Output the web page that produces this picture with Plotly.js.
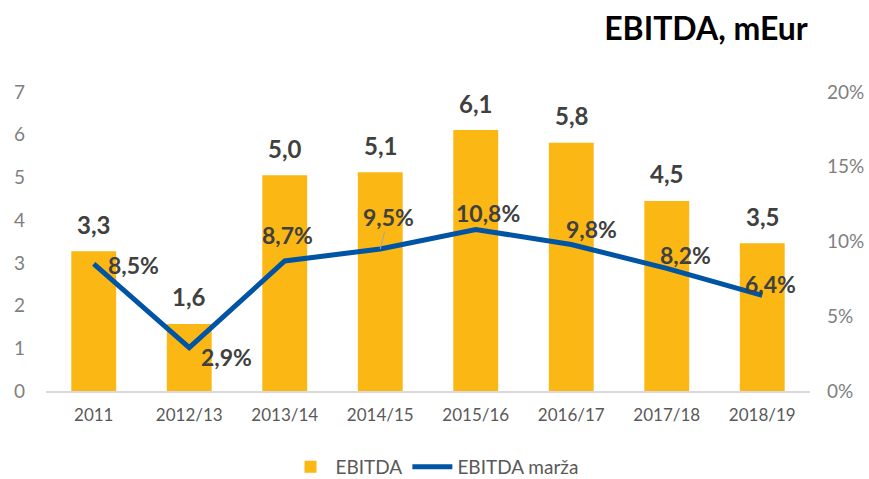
<!DOCTYPE html>
<html>
<head>
<meta charset="utf-8">
<script src="https://cdn.plot.ly/plotly-3.0.1.min.js"></script>
<style>html,body{margin:0;padding:0;background:#fff;}#chart{width:869px;height:479px;}</style>
</head>
<body>
<div id="chart"></div>
<script>
// Data
const categories = ["2011", "2012/13", "2013/14", "2014/15", "2015/16", "2016/17", "2017/18", "2018/19"];
const ebitda = [3.27, 1.57, 5.05, 5.12, 6.11, 5.81, 4.45, 3.46];
const ebitdaLabels = ["3,3", "1,6", "5,0", "5,1", "6,1", "5,8", "4,5", "3,5"];
const margin = [8.5, 2.9, 8.7, 9.5, 10.8, 9.8, 8.2, 6.4];
const marginLabels = ["8,5%", "2,9%", "8,7%", "9,5%", "10,8%", "9,8%", "8,2%", "6,4%"];
const leftTicks = [0, 1, 2, 3, 4, 5, 6, 7];
const rightTicks = [0, 5, 10, 15, 20];
const rightTickText = ["0%", "5%", "10%", "15%", "20%"];

// Label offsets (px) for margin labels
const marginShiftX = [40, 37, 3, 8, 12, 20, 19, 8];
const marginShiftY = [-1, -9, 26, 32, 17, 15, 13, 11];

const FONT = "Lato, 'Open Sans', sans-serif";
const labelColor = "#404040";
const idx = categories.map((c, i) => i);

const annotations = [];
idx.forEach((i) => {
  annotations.push({
    x: i, y: ebitda[i], xref: "x", yref: "y",
    text: "<b>" + ebitdaLabels[i] + "</b>",
    showarrow: false, yshift: 27, yanchor: "middle",
    font: {family: FONT, size: 24, color: labelColor}
  });
  if (i === 3) {
    annotations.push({
      x: i, y: margin[i], xref: "x", yref: "y2",
      text: "<b>" + marginLabels[i] + "</b>",
      showarrow: true, arrowhead: 0, arrowwidth: 1, arrowcolor: "#a6a6a6",
      ax: marginShiftX[i], ay: -marginShiftY[i], standoff: 0, borderpad: 0,
      font: {family: FONT, size: 23, color: labelColor}
    });
  } else {
    annotations.push({
      x: i, y: margin[i], xref: "x", yref: "y2",
      text: "<b>" + marginLabels[i] + "</b>",
      showarrow: false, xshift: marginShiftX[i], yshift: marginShiftY[i], yanchor: "middle",
      font: {family: FONT, size: 23, color: labelColor}
    });
  }
});

const traces = [
  {
    type: "bar", name: "EBITDA", x: idx, y: ebitda,
    marker: {color: "#FBB714"}, hoverinfo: "skip"
  },
  {
    type: "scatter", mode: "lines", name: "EBITDA marža", x: idx, y: margin,
    yaxis: "y2", line: {color: "#0054A4", width: 5}, hoverinfo: "skip"
  }
];

const layout = {
  width: 869, height: 479,
  margin: {l: 46, r: 59, t: 92, b: 88},
  paper_bgcolor: "#fff", plot_bgcolor: "#fff",
  font: {family: FONT, color: "#595959"},
  bargap: 0.53,
  showlegend: true,
  title: {
    text: "<b>EBITDA, mEur</b>", x: 706/869, xanchor: "center", xref: "container",
    y: 1 - 29/479, yanchor: "middle", yref: "container",
    font: {family: FONT, size: 32, color: "#000"}
  },
  xaxis: {
    range: [-0.5, categories.length - 0.5],
    tickvals: idx, ticktext: categories, showgrid: false, zeroline: false,
    showline: true, linecolor: "#d9d9d9", linewidth: 1.5,
    ticks: "", tickfont: {family: FONT, size: 17, color: "#595959"},
    ticklabelstandoff: 8, fixedrange: true
  },
  yaxis: {
    range: [0, 7], tickvals: leftTicks, showgrid: false, zeroline: false,
    showline: false, ticks: "", tickfont: {family: FONT, size: 19, color: "#7f7f7f"},
    ticklabelstandoff: 20, fixedrange: true
  },
  yaxis2: {
    range: [0, 20], tickvals: rightTicks, ticktext: rightTickText,
    overlaying: "y", side: "right", showgrid: false, zeroline: false,
    showline: false, ticks: "", tickfont: {family: FONT, size: 19, color: "#7f7f7f"},
    ticklabelstandoff: 16, fixedrange: true
  },
  legend: {
    orientation: "h", x: 0.5, xanchor: "center", xref: "container",
    y: 1 - 467/479, yanchor: "middle", yref: "container",
    font: {family: FONT, size: 19, color: "#595959"},
    itemwidth: 40, tracegroupgap: 0
  },
  annotations: annotations
};

Plotly.newPlot("chart", traces, layout, {displayModeBar: false, staticPlot: true});
</script>
</body>
</html>
